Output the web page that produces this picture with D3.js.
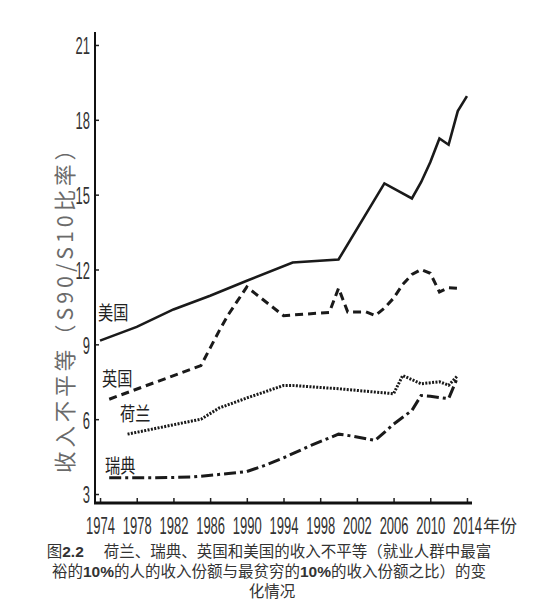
<html>
<head>
<meta charset="utf-8">
<style>
  body { margin: 0; background: #fff; }
</style>
</head>
<body>
<svg id="chart" width="546" height="606"></svg>
<script src="https://cdn.jsdelivr.net/npm/d3@7"></script>
<script>
// values
let usYears = [1974, 1978, 1982, 1986, 1990, 1995, 2000, 2005, 2008, 2009, 2010, 2011, 2012, 2013, 2014]
let usValues = [9.15, 9.7, 10.4, 10.95, 11.55, 12.28, 12.4, 15.45, 14.85, 15.5, 16.3, 17.25, 17.0, 18.35, 18.95]

let ukYears = [1975, 1985, 1986, 1987, 1988, 1989, 1990, 1994, 1999, 2000, 2001, 2003, 2004, 2005, 2006, 2007, 2008, 2009, 2010, 2011, 2012, 2013]
let ukValues = [6.8, 8.15, 8.85, 9.55, 10.2, 10.75, 11.3, 10.15, 10.28, 11.25, 10.3, 10.3, 10.15, 10.45, 10.85, 11.4, 11.8, 12.0, 11.85, 11.1, 11.27, 11.25]

let nlYears = [1977, 1981, 1985, 1987, 1990, 1994, 1995, 2000, 2006, 2007, 2009, 2011, 2012, 2013]
let nlValues = [5.4, 5.7, 6.0, 6.45, 6.85, 7.35, 7.35, 7.22, 7.02, 7.75, 7.42, 7.5, 7.36, 7.75]

let seYears = [1975, 1980, 1984, 1988, 1990, 1992, 1994, 1997, 2000, 2001, 2004, 2006, 2008, 2009, 2010, 2012, 2013]
let seValues = [3.65, 3.65, 3.68, 3.82, 3.9, 4.15, 4.45, 4.95, 5.4, 5.35, 5.15, 5.8, 6.35, 6.95, 6.92, 6.82, 7.7]

let xTicks = [1974, 1978, 1982, 1986, 1990, 1994, 1998, 2002, 2006, 2010, 2014]
let yTicks = [3, 6, 9, 12, 15, 18, 21]

let seriesNames = ["美国", "英国", "荷兰", "瑞典"]
let yTitle = "收入不平等（S90/S10比率）"
let xUnit = "年份"

let svg = d3.select("#chart")

let x = d3.scaleLinear().domain([1973.45, 2014.55]).range([95, 472])
let y = d3.scaleLinear().domain([2.64, 21.52]).range([503, 32])

let numFont = "'Liberation Sans', Arial, sans-serif"
let cjkFont = "'Noto Sans CJK SC', sans-serif"
let squeeze = 0.53

// axes
let yAxis = svg.append("g")
    .attr("transform", "translate(95,0)")
    .call(d3.axisLeft(y).tickValues(yTicks).tickSize(-4).tickFormat(d3.format("d")))
yAxis.select(".domain").remove()
yAxis.selectAll("line").attr("stroke", "#222").attr("stroke-width", 1.5)
yAxis.selectAll("text")
    .attr("font-family", numFont)
    .attr("font-size", 24.5)
    .attr("fill", "#333")
    .attr("x", -5 / squeeze)
    .attr("dy", "0.36em")
    .attr("transform", `scale(${squeeze},1)`)

let xAxis = svg.append("g")
    .attr("transform", "translate(0,503)")
    .call(d3.axisBottom(x).tickValues(xTicks).tickSize(-5).tickFormat(d3.format("d")))
xAxis.select(".domain").remove()
xAxis.selectAll("line").attr("stroke", "#222").attr("stroke-width", 1.5)
xAxis.selectAll(".tick text").remove()
xAxis.selectAll(".tick").append("text")
    .attr("font-family", numFont)
    .attr("font-size", 24.5)
    .attr("fill", "#333")
    .attr("text-anchor", "middle")
    .attr("y", 31)
    .attr("transform", `scale(${squeeze},1)`)
    .text(d => d)

// axis lines
svg.append("line")
    .attr("x1", 95).attr("x2", 95)
    .attr("y1", y.range()[1]).attr("y2", y.range()[0] + 1)
    .attr("stroke", "#111").attr("stroke-width", 2)
svg.append("line")
    .attr("x1", 94).attr("x2", 472)
    .attr("y1", 503).attr("y2", 503)
    .attr("stroke", "#111").attr("stroke-width", 3)

svg.append("text")
    .attr("x", 483).attr("y", 532)
    .attr("font-family", cjkFont)
    .attr("font-size", 17)
    .attr("fill", "#333")
    .text(xUnit)

// y title, stretched to the span it has in the figure
svg.append("text")
    .attr("transform", "translate(65,473) rotate(-90)")
    .attr("text-anchor", "start")
    .attr("dy", "0.35em")
    .attr("font-family", cjkFont)
    .attr("font-size", 21.5)
    .attr("textLength", 334)
    .attr("lengthAdjust", "spacing")
    .attr("fill", "#6a6a6a")
    .text(yTitle)

// lines
let line = d3.line()
    .x(d => x(d[0]))
    .y(d => y(d[1]))

let series = [
    { years: usYears, values: usValues, dash: null, width: 2.6 },
    { years: ukYears, values: ukValues, dash: "8,5", width: 3 },
    { years: nlYears, values: nlValues, dash: "2,1.4", width: 3 },
    { years: seYears, values: seValues, dash: "12,4,3,4", width: 3 }
]

svg.selectAll("path.series")
    .data(series)
    .enter().append("path")
    .attr("class", "series")
    .attr("d", s => line(d3.zip(s.years, s.values)))
    .attr("fill", "none")
    .attr("stroke", "#1a1a1a")
    .attr("stroke-width", s => s.width)
    .attr("stroke-dasharray", s => s.dash)

// series labels
let labelPos = [[98, 320], [102, 386], [120, 421], [105, 473]]
svg.selectAll("text.label")
    .data(seriesNames)
    .enter().append("text")
    .attr("class", "label")
    .attr("transform", (d, i) => `translate(${labelPos[i][0]},${labelPos[i][1]}) scale(0.8,1)`)
    .attr("font-family", cjkFont)
    .attr("font-size", 19)
    .attr("fill", "#222")
    .text(d => d)

// caption
let caption = svg.append("g").attr("font-family", cjkFont).attr("font-size", 15.5).attr("fill", "#333")
let c1 = caption.append("text").attr("x", 269).attr("y", 557).attr("text-anchor", "middle")
c1.append("tspan").text("图")
c1.append("tspan").attr("font-family", numFont).attr("font-weight", "bold").text("2.2")
c1.append("tspan").attr("dx", 20).text("荷兰、瑞典、英国和美国的收入不平等（就业人群中最富")
let c2 = caption.append("text").attr("x", 269).attr("y", 577).attr("text-anchor", "middle")
c2.append("tspan").text("裕的")
c2.append("tspan").attr("font-family", numFont).attr("font-weight", "bold").text("10%")
c2.append("tspan").text("的人的收入份额与最贫穷的")
c2.append("tspan").attr("font-family", numFont).attr("font-weight", "bold").text("10%")
c2.append("tspan").text("的收入份额之比）的变")
caption.append("text").attr("x", 272).attr("y", 597).attr("text-anchor", "middle").text("化情况")
</script>
</body>
</html>
